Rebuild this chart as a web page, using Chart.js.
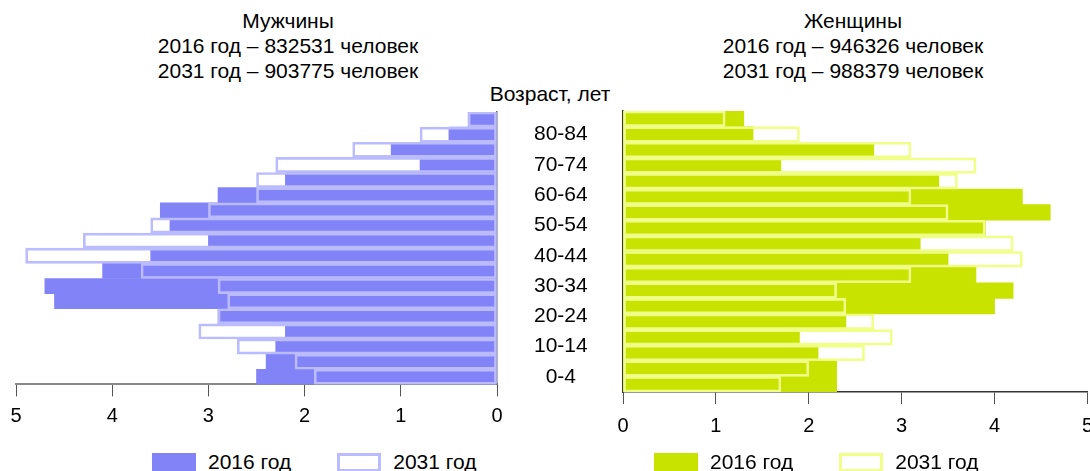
<!DOCTYPE html>
<html>
<head>
<meta charset="utf-8">
<script src="https://cdn.jsdelivr.net/npm/chart.js@4"></script>
<style>
  body { margin: 0; background: #fff; width: 1090px; height: 471px; overflow: hidden; position: relative; font-family: "Liberation Sans", Arial, sans-serif; color: #000; }
  canvas { position: absolute; top: 0; }
  .title { position: absolute; top: 8px; width: 400px; text-align: center; font-size: 21px; line-height: 25px; }
  .age { position: absolute; top: 82px; left: 450px; width: 200px; text-align: center; font-size: 21px; }
  .legend { position: absolute; top: 452px; display: flex; align-items: center; font-size: 21px; line-height: 20px; }
  .legend span.box { display: inline-block; width: 44px; height: 19px; box-sizing: border-box; margin-right: 12px; }
  .legend span.txt { margin-right: 46px; }
</style>
</head>
<body>
<div class="title" style="left:88px">Мужчины<br>2016 год – 832531 человек<br>2031 год – 903775 человек</div>
<div class="title" style="left:653px">Женщины<br>2016 год – 946326 человек<br>2031 год – 988379 человек</div>
<div class="age">Возраст, лет</div>
<canvas id="menChart" width="610" height="434" style="left:0"></canvas>
<canvas id="womenChart" width="543" height="438" style="left:560px"></canvas>
<div class="legend" id="menLegend" style="left:152px"></div>
<div class="legend" id="womenLegend" style="left:654px"></div>
<script>
/*----data----*/
const ages = ["0-4","5-9","10-14","15-19","20-24","25-29","30-34","35-39","40-44","45-49","50-54","55-59","60-64","65-69","70-74","75-79","80-84","85+"];
const men2016 = [2.5,2.4,2.3,2.2,2.9,4.6,4.7,4.1,3.6,3.0,3.4,3.5,2.9,2.2,0.8,1.1,0.5,0.3];
const men2031 = [1.9,2.1,2.7,3.1,2.9,2.8,2.9,3.7,4.9,4.3,3.6,3.0,2.5,2.5,2.3,1.5,0.8,0.3];
const women2016 = [2.3,2.3,2.1,1.9,2.4,4.0,4.2,3.8,3.5,3.2,3.9,4.6,4.3,3.4,1.7,2.7,1.4,1.3];
const women2031 = [1.7,2.0,2.6,2.9,2.7,2.4,2.3,3.1,4.3,4.2,3.9,3.5,3.1,3.6,3.8,3.1,1.9,1.1];
const xTicks = [0,1,2,3,4,5];

const font = {family: "'Liberation Sans', Arial, sans-serif", size: 20};
const ageFont = {family: "'Liberation Sans', Arial, sans-serif", size: 21};

function bars(label, data, fill, line) {
  return [
    {label: label[0], data: data[0], backgroundColor: fill, borderWidth: 0, grouped: false, order: 2, barPercentage: 1, categoryPercentage: 1},
    {label: label[1], data: data[1], backgroundColor: 'rgba(255,255,255,0)', borderColor: line, borderWidth: 2, borderSkipped: false, grouped: false, order: 1, barPercentage: 1, categoryPercentage: 1}
  ];
}

function xScale(rev, border, h) {
  return {
    reverse: rev, min: xTicks[0], max: xTicks[xTicks.length - 1],
    afterBuildTicks: s => { s.ticks = xTicks.map(v => ({value: v})); },
    afterFit: s => { s.height = h; },
    ticks: {color: '#000', font: font, padding: rev ? 8 : 10, maxRotation: 0},
    grid: {drawOnChartArea: false, tickLength: 12, color: '#555'},
    border: border
  };
}

/*----men----*/
const men = new Chart("menChart", {
  type: "bar",
  data: {labels: ages, datasets: bars(["2016 год","2031 год"], [men2016, men2031], '#8383f8', '#bbbbff')},
  options: {
    indexAxis: 'y', responsive: false, animation: false,
    layout: {padding: {top: 112, left: 16, right: 13, bottom: 0}},
    plugins: {legend: {display: false}, tooltip: {enabled: false}},
    scales: {
      x: xScale(true, {color: '#888', width: 2}, 44),
      y: {
        position: 'right', reverse: true,
        afterFit: s => { s.width = 100; },
        ticks: {autoSkip: false, crossAlign: 'center', padding: 37, color: '#000', font: ageFont,
          callback: (v, i) => i % 2 === 0 ? ages[i] : ''},
        grid: {display: false, drawTicks: false},
        border: {color: '#666', width: 1.5}
      }
    }
  }
});

/*----women----*/
const women = new Chart("womenChart", {
  type: "bar",
  data: {labels: ages, datasets: bars(["2016 год","2031 год"], [women2016, women2031], '#c9e300', '#efff88')},
  options: {
    indexAxis: 'y', responsive: false, animation: false,
    layout: {padding: {top: 111, left: 63, right: 0, bottom: 0}},
    plugins: {legend: {display: false}, tooltip: {enabled: false}},
    scales: {
      x: xScale(false, {color: '#333', width: 1.5}, 46),
      y: {
        reverse: true,
        afterFit: s => { s.width = 0; },
        ticks: {display: false},
        grid: {display: false, drawTicks: false},
        border: {color: '#333', width: 1.5}
      }
    }
  }
});

/*----legends----*/
function makeLegend(chart, id) {
  var el = document.getElementById(id);
  chart.data.datasets.forEach(function(ds) {
    var box = document.createElement('span');
    box.className = 'box';
    box.style.background = ds.borderWidth ? '#fff' : ds.backgroundColor;
    if (ds.borderWidth) box.style.border = '3px solid ' + ds.borderColor;
    var txt = document.createElement('span');
    txt.className = 'txt';
    txt.textContent = ds.label;
    el.appendChild(box);
    el.appendChild(txt);
  });
}
makeLegend(men, 'menLegend');
makeLegend(women, 'womenLegend');
</script>
</body>
</html>
